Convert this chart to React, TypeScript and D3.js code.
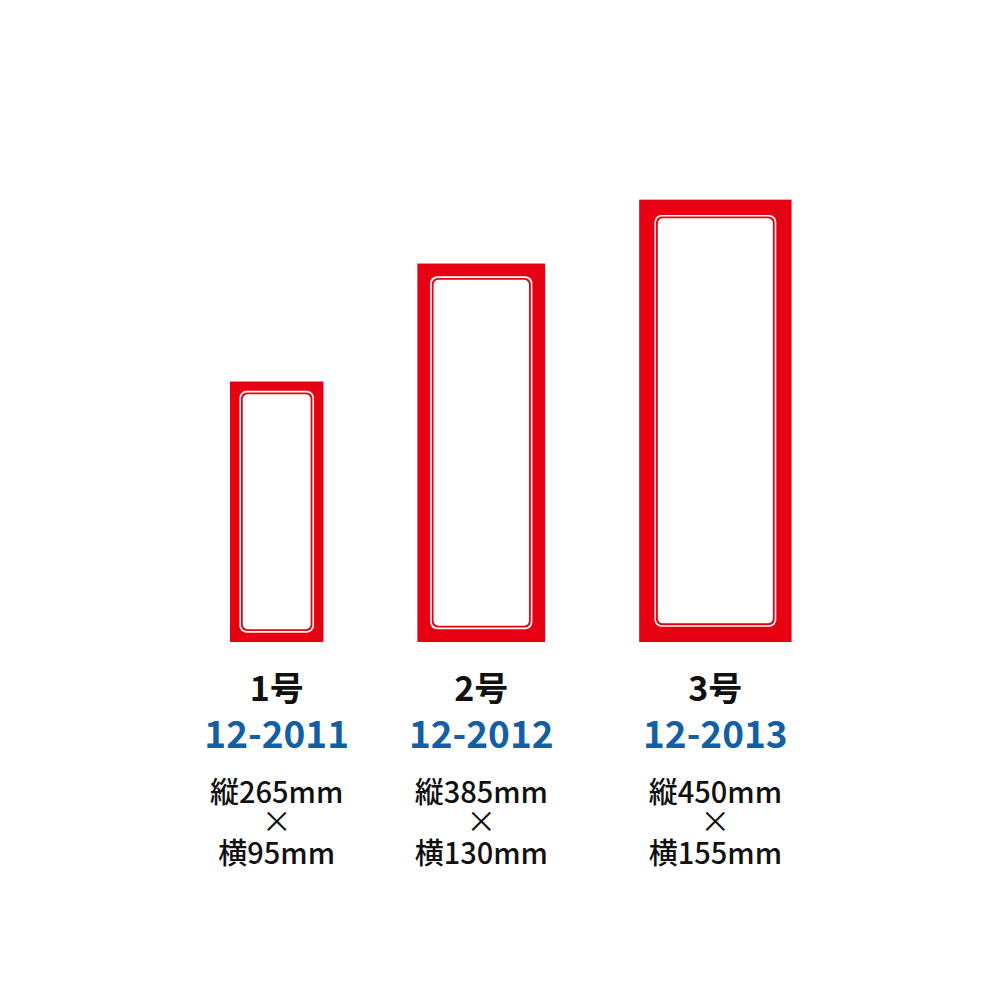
import * as d3 from "d3";

// label sizes (mm) and names
const sizes = ["1号", "2号", "3号"];
const codes = ["12-2011", "12-2012", "12-2013"];
const heightsMm = [265, 385, 450];
const widthsMm = [95, 130, 155];

const RED = "#e60012";
const BLUE = "#135fa6";
const FONT = "'Noto Sans CJK JP', 'Noto Sans', sans-serif";

const App = () => {
    const width = 1000;
    const height = 1000;
    const baseY = 642;
    const startX = 230;
    const gap = 94;

    // mm -> px
    const mm = d3.scaleLinear().domain([0, 100]).range([0, 98.3]);

    const xs: number[] = [];
    widthsMm.reduce((acc, w) => {
        xs.push(acc);
        return acc + mm(w) + gap;
    }, startX);

    return (
        <svg
            width={width}
            height={height}
            style={{ position: "absolute", left: 0, top: 0, background: "#fff" }}
        >
            {sizes.map((name, i) => {
                const w = mm(widthsMm[i]);
                const h = mm(heightsMm[i]);
                const x = xs[i];
                const y = baseY - h;
                const border = w * 0.1;
                const cx = x + w / 2;
                return (
                    <g key={name}>
                        <rect x={x} y={y} width={w} height={h} fill={RED} />
                        {/* thin white line */}
                        <rect
                            x={x + border}
                            y={y + border}
                            width={w - border * 2}
                            height={h - border * 2}
                            rx={7}
                            fill="#fff"
                        />
                        {/* thin red line */}
                        <rect
                            x={x + border + 1.6}
                            y={y + border + 1.6}
                            width={w - border * 2 - 3.2}
                            height={h - border * 2 - 3.2}
                            rx={6}
                            fill={RED}
                        />
                        <rect
                            x={x + border + 3.4}
                            y={y + border + 3.4}
                            width={w - border * 2 - 6.8}
                            height={h - border * 2 - 6.8}
                            rx={5}
                            fill="#fff"
                        />
                        <g textAnchor="middle" fontFamily={FONT}>
                            <text x={cx} y={701} fontSize={34} fontWeight={700} fill="#111">
                                {name}
                            </text>
                            <text x={cx} y={748} fontSize={37} fontWeight={700} fill={BLUE}>
                                {codes[i]}
                            </text>
                            <text x={cx} y={803} fontSize={29} fontWeight={500} fill="#111">
                                {`縦${heightsMm[i]}mm`}
                            </text>
                            <text x={cx} y={832} fontSize={30} fill="#111">
                                ×
                            </text>
                            <text x={cx} y={864} fontSize={29} fontWeight={500} fill="#111">
                                {`横${widthsMm[i]}mm`}
                            </text>
                        </g>
                    </g>
                );
            })}
        </svg>
    );
};

export default App;
